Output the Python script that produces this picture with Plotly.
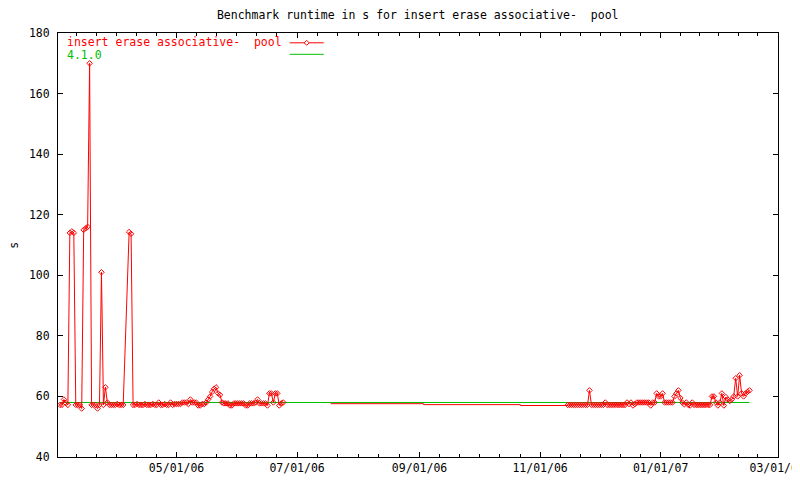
import pandas as pd
import plotly.graph_objects as go

TITLE = "Benchmark runtime in s for insert erase associative-\u00a0 pool"
SERIES_NAME = "insert erase associative-\u00a0 pool"
BASELINE_NAME = "4.1.0"
Y_TITLE = "s"

# Dense daily runs of the red series (start date, one value per day)
run1_start = "2006-03-03"
run1_values = [
    57.2, 57.2, 59, 57.8, 57.2, 114, 114.5, 114, 57.2, 57.2,
    57.2, 56, 115, 115.5, 116, 170, 57.2, 57.2, 57.2, 56,
    57.2, 101, 57.2, 63, 58, 57.2, 57.2, 57.2, 57.2, 57.5,
    57.2, 57.2, 57.2,
]
run2_start = "2006-04-07"
run2_values = [
    114.3, 113.7, 57.2, 57.2, 57.5, 57.2, 57.2, 57.2, 57.5, 57.2,
    57.2, 57.2, 57.5, 57.2, 57.2, 58, 57.2, 57.2, 57.5, 57.2,
    57.2, 58, 57.2, 57.5, 57.5, 57.5, 57.5, 58, 58, 58,
    57.5, 59, 58, 58, 58, 57, 57, 57.5, 57.5, 58,
    59, 60, 61.5, 62.5, 63, 61, 60.5, 58, 57.7, 57.7,
    57.7, 57, 57, 57.7, 57.7, 57.7, 57.7, 57.7, 57.7, 57,
    57, 57.7, 57.7, 57.7, 58, 59, 57.7, 57.7, 57.7, 57.7,
    57, 61, 61, 58, 61, 61, 57, 57.7, 58,
]
# Sparse stretch drawn as a plain stepped line
step_dates = ["2006-07-18", "2006-09-03", "2006-10-22", "2006-11-15"]
step_values = [57.6, 57.3, 57.0, 57.0]

run3_start = "2006-11-15"
run3_values = [
    57.2, 57.2, 57.2, 57.2, 57.2, 57.2, 57.2, 57.2, 57.2, 57.2,
    57.2, 62, 57.2, 57.2, 57.2, 57.2, 57.2, 57.2, 57.2, 58,
    57.2, 57.2, 57.2, 57.2, 57.2, 57.2, 57.2, 57.2, 57.2, 57.2,
    58, 57.5, 58, 57, 57.5, 58, 58, 58, 58, 58,
    58, 58, 57, 58, 58, 61, 60, 60, 61, 58,
    58, 58, 58, 58, 60, 61, 62, 59.5, 58, 57.4,
    58, 57.2, 57, 58, 57.2, 57.2, 57.2, 57.2, 57.2, 57.2,
    57.2, 57.2, 57.2, 60, 60, 58, 57, 58, 61, 57,
    59.8, 59, 58.5, 59, 60, 66, 60, 67, 61, 60,
    61, 61.5, 62,
]

baseline_dates = ["2006-03-03", "2007-02-15"]
baseline_values = [58, 58]

major_ticks = ["2006-03-01", "2006-05-01", "2006-07-01", "2006-09-01",
               "2006-11-01", "2007-01-01", "2007-03-01"]
x_range = ["2006-03-02", "2007-03-01 10:00"]
y_range = [40, 180]

RED = "#ff0000"
GREEN = "#00c000"
FONT = "DejaVu Sans Mono"
FS = 11.5

d1 = pd.date_range(run1_start, periods=len(run1_values), freq="D")
d2 = pd.date_range(run2_start, periods=len(run2_values), freq="D")
d3 = pd.date_range(run3_start, periods=len(run3_values), freq="D")
red_x = list(d1) + list(d2)
red_y = run1_values + run2_values

# minor ticks: six sub-intervals per major interval
mt = pd.to_datetime(major_ticks)
minor_vals = []
for a, b in zip(mt[:-1], mt[1:]):
    for k in range(1, 6):
        minor_vals.append(a + (b - a) * k / 6)

marker = dict(symbol="diamond-open", size=4.2, color=RED, line=dict(width=1, color=RED))

fig = go.Figure()
fig.add_trace(go.Scatter(x=baseline_dates, y=baseline_values, mode="lines",
                         line=dict(color=GREEN, width=1), name=BASELINE_NAME))
fig.add_trace(go.Scatter(x=step_dates, y=step_values, mode="lines",
                         line=dict(color=RED, width=1, shape="hv"), name=SERIES_NAME))
fig.add_trace(go.Scatter(x=red_x, y=red_y, mode="lines+markers",
                         line=dict(color=RED, width=1), marker=marker, name=SERIES_NAME))
fig.add_trace(go.Scatter(x=list(d3), y=run3_values, mode="lines+markers",
                         line=dict(color=RED, width=1), marker=marker, name=SERIES_NAME))

axis_common = dict(showline=True, linecolor="black", linewidth=1, mirror="allticks",
                   ticks="inside", ticklen=5, tickcolor="black", showgrid=False,
                   zeroline=False, automargin=False,
                   tickfont=dict(family=FONT, size=FS, color="black"))

fig.update_xaxes(type="date", range=x_range, tickformat="%m/%d/%y",
                 tickmode="array", tickvals=major_ticks[1:], ticklabeloverflow="allow",
                 minor=dict(tickmode="array", tickvals=minor_vals, ticks="inside",
                            ticklen=3, tickcolor="black"),
                 **axis_common)
fig.update_yaxes(range=y_range, dtick=20, tick0=40, ticklabelstandoff=5, **axis_common)

# manual gnuplot-style key (text left, sample right); coords relative to plot area
pw, ph = 720.0, 424.0
def px(x):
    return (x - 58.3) / pw
def py(y):
    return 1 - (y - 32.7) / ph

annotations = [
    dict(text=SERIES_NAME, x=px(65), y=py(42.0), xref="paper", yref="paper",
         xanchor="left", yanchor="middle", showarrow=False,
         font=dict(family=FONT, size=FS, color=RED)),
    dict(text=BASELINE_NAME, x=px(65), y=py(54.8), xref="paper", yref="paper",
         xanchor="left", yanchor="middle", showarrow=False,
         font=dict(family=FONT, size=FS, color=GREEN)),
    dict(text=Y_TITLE, x=px(14), y=0.5, xref="paper", yref="paper",
         xanchor="center", yanchor="middle", textangle=-90, showarrow=False,
         font=dict(family=FONT, size=FS, color="black")),
]
dx, dy = 2.5 / pw, 2.5 / ph
cx, cy = px(307), py(42.5)
shapes = [
    dict(type="line", xref="paper", yref="paper", x0=px(290), x1=px(324),
         y0=py(42.5), y1=py(42.5), line=dict(color=RED, width=1)),
    dict(type="path", xref="paper", yref="paper",
         path=f"M {cx},{cy+dy} L {cx+dx},{cy} L {cx},{cy-dy} L {cx-dx},{cy} Z",
         line=dict(color=RED, width=1), fillcolor="white"),
    dict(type="line", xref="paper", yref="paper", x0=px(290), x1=px(324),
         y0=py(54), y1=py(54), line=dict(color=GREEN, width=1)),
]

# page body has an 8px margin: shrink the figure so the plot area lands where the reference has it
OFF = 8
W, H = 800 - OFF, 480 - OFF
fig.update_layout(
    width=W, height=H, template="none",
    paper_bgcolor="white", plot_bgcolor="white",
    margin=dict(l=58 - OFF, r=22, t=33 - OFF, b=23, autoexpand=False),
    showlegend=False,
    title=dict(text=TITLE, x=px(418), xanchor="center", y=1 - (15 - OFF) / H, yanchor="middle",
               xref="paper", yref="container",
               font=dict(family=FONT, size=FS, color="black")),
    annotations=annotations, shapes=shapes,
    font=dict(family=FONT, size=FS, color="black"),
)

fig.write_html("out.html")
